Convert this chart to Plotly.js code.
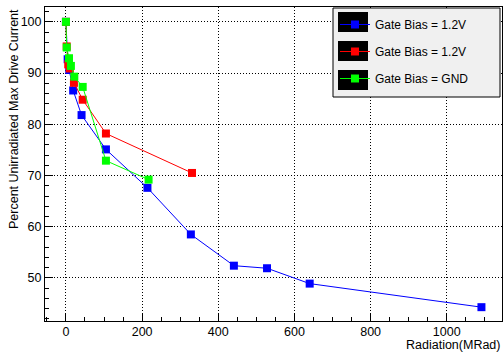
<!DOCTYPE html>
<html><head><meta charset="utf-8">
<script src="https://cdn.plot.ly/plotly-3.0.1.min.js"></script>
<style>html,body{margin:0;padding:0;background:#fff}#c{width:503px;height:354px}</style>
</head><body><div id="c"></div>
<script>
// Data
const blueX = [0, 4.5, 8.7, 19, 41, 105, 214, 328, 441, 528, 640, 1091];
const blueY = [100, 92.7, 90.6, 86.6, 81.8, 75.1, 67.6, 58.5, 52.4, 51.9, 48.9, 44.3];
const redX = [0, 2, 6, 10, 21, 44, 105, 331];
const redY = [100, 95.2, 91.7, 90.9, 88.1, 84.8, 78.2, 70.5];
const greenX = [0, 2, 8, 13, 22, 44, 105, 217];
const greenY = [100, 95.0, 92.9, 91.4, 89.3, 87.3, 72.9, 69.2];
const seriesNames = ["Gate Bias = 1.2V", "Gate Bias = 1.2V", "Gate Bias = GND"];
const seriesColors = ["#0000ff", "#ff0000", "#00ff00"];
const xTitle = "Radiation(MRad)";
const yTitle = "Percent Unirradiated Max Drive Current";

const font = "Liberation Sans, Arial, Helvetica, sans-serif";
function tr(x, y, i) {
  return {x: x, y: y, type: "scatter", mode: "lines+markers", name: seriesNames[i],
    legendgroup: "g" + i,
    line: {color: seriesColors[i], width: 1},
    marker: {color: seriesColors[i], symbol: "square", size: 8}};
}
const data = [tr(blueX, blueY, 0), tr(redX, redY, 1), tr(greenX, greenY, 2)];

const W = 457, H = 314; // plot area px
const px = v => (v - 45) / W;
const py = v => (321 - v) / H;

const shapes = [
  {type: "rect", xref: "paper", yref: "paper", x0: px(333), x1: px(500), y0: py(97), y1: py(8),
   fillcolor: "#f0f0f0", line: {color: "black", width: 1}, layer: "above"},
  {type: "rect", xref: "paper", yref: "paper", x0: px(338), x1: px(368), y0: py(32), y1: py(12),
   fillcolor: "black", line: {width: 0}, layer: "above"},
  {type: "rect", xref: "paper", yref: "paper", x0: px(338), x1: px(368), y0: py(61), y1: py(41),
   fillcolor: "black", line: {width: 0}, layer: "above"},
  {type: "rect", xref: "paper", yref: "paper", x0: px(338), x1: px(368), y0: py(90), y1: py(70),
   fillcolor: "black", line: {width: 0}, layer: "above"}
];

const axisCommon = {
  showline: true, linecolor: "black", linewidth: 1, mirror: true,
  ticks: "inside", ticklen: 8, tickcolor: "black", tickwidth: 1,
  showgrid: true, gridcolor: "black", griddash: "1px,2px", gridwidth: 1,
  zeroline: false, tickfont: {family: font, size: 12.5, color: "black"}
};

const layout = {
  width: 503, height: 354,
  margin: {l: 45, r: 1, t: 7, b: 33},
  paper_bgcolor: "white", plot_bgcolor: "white",
  showlegend: true,
  legend: {x: px(335), y: py(10), xanchor: "left", yanchor: "top",
    bgcolor: "rgba(0,0,0,0)", borderwidth: 0, tracegroupgap: 8,
    font: {family: font, size: 12, color: "black"}, itemwidth: 30},
  xaxis: Object.assign({}, axisCommon, {range: [-55, 1145], dtick: 200, tick0: 0, ticklabelstandoff: -1,
    minor: {dtick: 50, ticks: "inside", ticklen: 4, tickcolor: "black", showgrid: false}}),
  yaxis: Object.assign({}, axisCommon, {range: [41.6, 102.9], dtick: 10, tick0: 0,
    minor: {dtick: 2, ticks: "inside", ticklen: 4, tickcolor: "black", showgrid: false}}),
  shapes: shapes,
  annotations: [
    {text: xTitle, xref: "paper", yref: "paper", x: 1, y: py(345), xanchor: "right", yanchor: "middle",
     showarrow: false, font: {family: font, size: 12.5, color: "black"}},
    {text: yTitle, xref: "paper", yref: "paper", x: px(14), y: 1, xanchor: "center", yanchor: "top",
     textangle: -90, showarrow: false, font: {family: font, size: 12.5, color: "black"}}
  ]
};
Plotly.newPlot("c", data, layout, {displayModeBar: false, staticPlot: true});
</script></body></html>
